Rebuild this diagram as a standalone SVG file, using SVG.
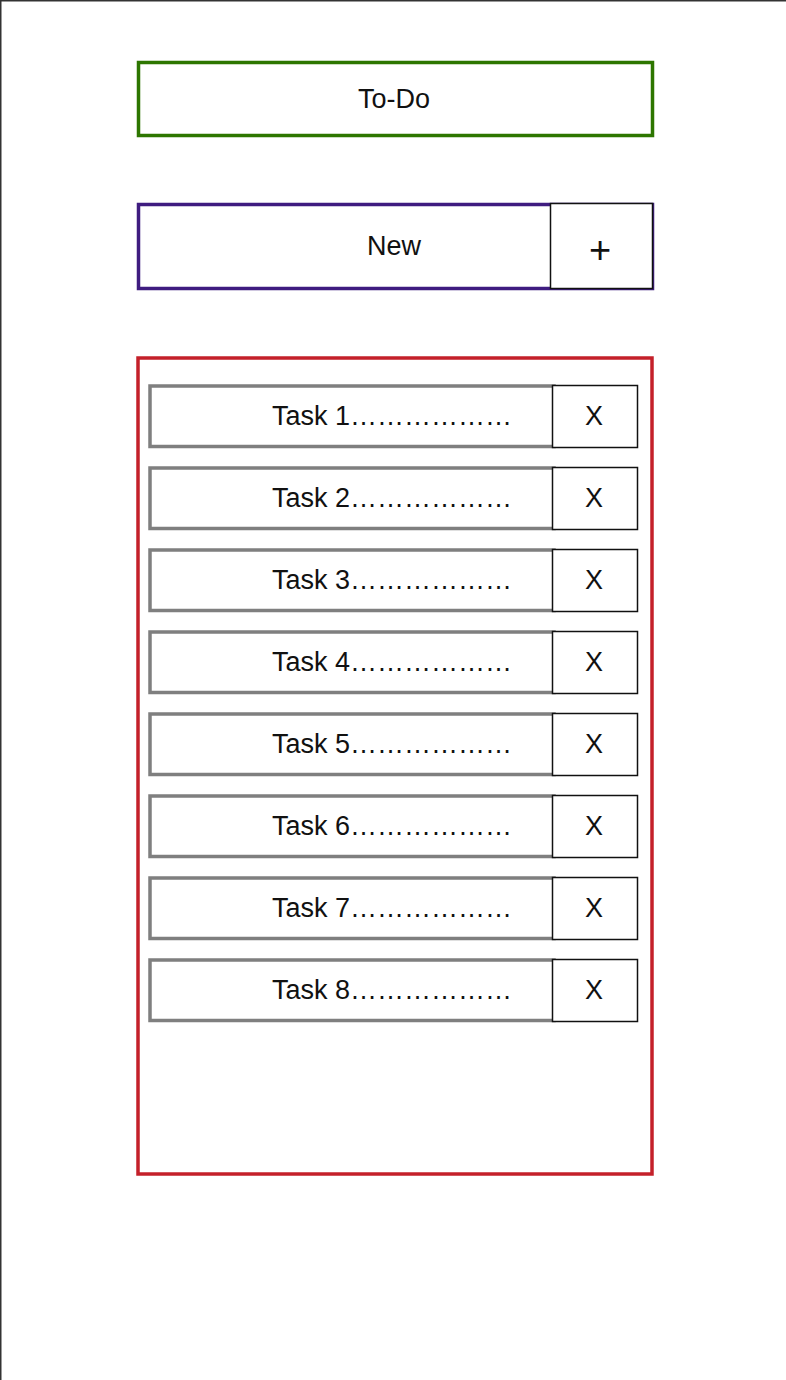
<svg xmlns="http://www.w3.org/2000/svg" width="786" height="1380" viewBox="0 0 786 1380">
<style>
text{font-family:"Liberation Sans",Arial,sans-serif;font-size:27px;fill:#111;text-anchor:middle;dominant-baseline:central}
.row{fill:#fff;stroke:#7f7f7f;stroke-width:3.5}
.btn{fill:#fff;stroke:#111;stroke-width:1.5}
</style>
<rect width="786" height="1380" fill="#fff"/>
<g id="frame"><path d="M0.5,1380 V0.5 H786" fill="none" stroke="#333" stroke-width="2"/></g>
<g id="title"><rect x="138.5" y="62.5" width="514" height="73" fill="#fff" stroke="#2d7600" stroke-width="3.5"/><text x="394" y="99">To-Do</text></g>
<g id="new"><rect x="138.5" y="204.5" width="514" height="84" fill="#fff" stroke="#3f1c80" stroke-width="3.5"/><text x="394" y="246">New</text></g>
<g id="add"><rect x="550.5" y="203.5" width="102" height="85" class="btn"/><text x="600" y="250" style="font-size:38px">+</text></g>
<g id="list"><rect x="138" y="358" width="514" height="816" fill="#fff" stroke="#c4202a" stroke-width="3.5"/></g>
<g id="task1"><rect x="150" y="386" width="404" height="60.5" class="row"/><rect x="552.5" y="385.5" width="85" height="62" class="btn"/><text x="392" y="416">Task 1………………</text><text x="594" y="416">X</text></g>
<g id="task2"><rect x="150" y="468" width="404" height="60.5" class="row"/><rect x="552.5" y="467.5" width="85" height="62" class="btn"/><text x="392" y="498">Task 2………………</text><text x="594" y="498">X</text></g>
<g id="task3"><rect x="150" y="550" width="404" height="60.5" class="row"/><rect x="552.5" y="549.5" width="85" height="62" class="btn"/><text x="392" y="580">Task 3………………</text><text x="594" y="580">X</text></g>
<g id="task4"><rect x="150" y="632" width="404" height="60.5" class="row"/><rect x="552.5" y="631.5" width="85" height="62" class="btn"/><text x="392" y="662">Task 4………………</text><text x="594" y="662">X</text></g>
<g id="task5"><rect x="150" y="714" width="404" height="60.5" class="row"/><rect x="552.5" y="713.5" width="85" height="62" class="btn"/><text x="392" y="744">Task 5………………</text><text x="594" y="744">X</text></g>
<g id="task6"><rect x="150" y="796" width="404" height="60.5" class="row"/><rect x="552.5" y="795.5" width="85" height="62" class="btn"/><text x="392" y="826">Task 6………………</text><text x="594" y="826">X</text></g>
<g id="task7"><rect x="150" y="878" width="404" height="60.5" class="row"/><rect x="552.5" y="877.5" width="85" height="62" class="btn"/><text x="392" y="908">Task 7………………</text><text x="594" y="908">X</text></g>
<g id="task8"><rect x="150" y="960" width="404" height="60.5" class="row"/><rect x="552.5" y="959.5" width="85" height="62" class="btn"/><text x="392" y="990">Task 8………………</text><text x="594" y="990">X</text></g>
<g id="connectors"></g>
</svg>
